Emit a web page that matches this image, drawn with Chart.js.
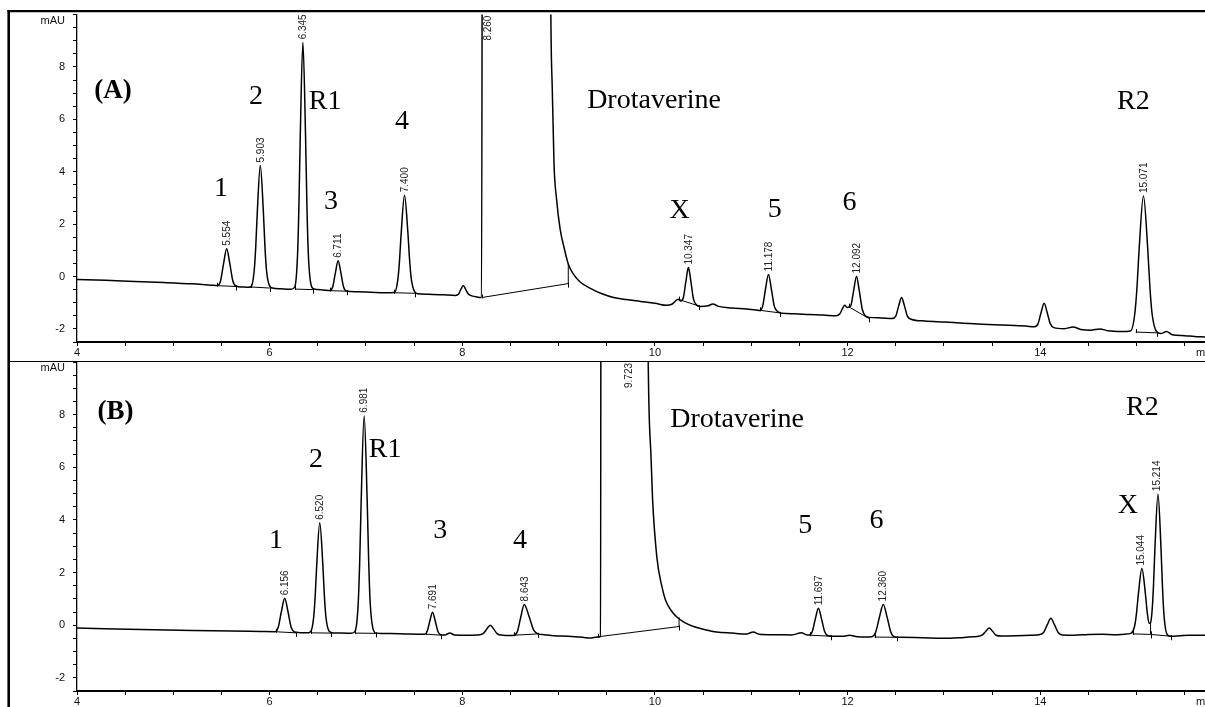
<!DOCTYPE html>
<html><head><meta charset="utf-8">
<script src="https://cdn.jsdelivr.net/npm/chart.js@4/dist/chart.umd.min.js"></script>
<style>
html,body{margin:0;padding:0;background:#fff;}
#wrap{position:relative;width:1205px;height:707px;overflow:hidden;background:#fff;}
canvas{position:absolute;left:0;top:0;}
</style></head><body>
<div id="wrap"><canvas id="cA" width="1205" height="707"></canvas><canvas id="cB" width="1205" height="707"></canvas></div>
<script>
// ---------- axis ticks ----------
const xTicks = [4,4.5,5,5.5,6,6.5,7,7.5,8,8.5,9,9.5,10,10.5,11,11.5,12,12.5,13,13.5,14,14.5,15,15.5];
const xTickLabels = [4,6,8,10,12,14];
const yTicks = [-2.5,-2,-1.5,-1,-0.5,0,0.5,1,1.5,2,2.5,3,3.5,4,4.5,5,5.5,6,6.5,7,7.5,8,8.5,9,9.5,10];
const yTickLabels = [-2,0,2,4,6,8];

// ---------- chromatogram (A): time (min) / signal (mAU) ----------
const timeA = [4.00,4.30,4.60,4.90,5.20,5.40,5.458,5.490,5.522,5.554,5.586,5.618,5.650,5.72,5.78,
5.807,5.839,5.855,5.871,5.903,5.935,5.951,5.967,5.999,6.03,6.12,6.22,
6.261,6.289,6.303,6.317,6.345,6.373,6.387,6.401,6.429,6.46,6.55,
6.627,6.655,6.683,6.711,6.739,6.767,6.795,6.90,7.05,7.20,
7.295,7.330,7.3475,7.365,7.400,7.435,7.4525,7.470,7.505,7.54,7.65,7.80,7.93,
7.96,7.985,8.010,8.035,8.06,8.10,8.15,8.20,
8.212,8.90,8.918,8.935,8.952,8.980,9.016,9.06,9.10,9.15,9.22,9.33,9.45,9.57,9.70,9.85,10.00,10.12,
10.18,10.24,10.269,10.295,10.321,10.347,10.373,10.399,10.43,10.47,10.55,10.60,10.66,10.80,10.95,11.05,
11.088,11.118,11.148,11.178,11.208,11.238,11.268,11.32,11.45,11.60,11.75,11.88,
11.92,11.95,11.97,11.995,12.032,12.062,12.092,12.122,12.152,12.182,12.22,12.35,12.46,
12.50,12.53,12.56,12.59,12.62,12.66,12.80,13.00,13.20,13.40,13.60,13.85,13.94,
13.976,14.008,14.040,14.072,14.104,14.14,14.25,14.34,14.42,14.52,14.62,14.70,14.85,
14.936,14.981,15.0035,15.026,15.071,15.116,15.1385,15.161,15.206,15.25,15.31,15.37,15.50,15.60,15.71];
const mauA = [-0.11,-0.14,-0.19,-0.23,-0.28,-0.33,-0.34,-0.17,0.50,1.06,0.50,-0.17,-0.36,-0.40,-0.41,
-0.39,0.20,1.09,2.40,4.24,2.45,1.15,0.25,-0.36,-0.44,-0.47,-0.49,
-0.40,0.78,2.58,5.23,8.94,5.30,2.70,0.90,-0.30,-0.48,-0.51,
-0.53,-0.39,0.15,0.60,0.15,-0.39,-0.55,-0.58,-0.60,-0.62,
-0.61,-0.14,0.58,1.63,3.10,1.68,0.65,-0.08,-0.58,-0.66,-0.68,-0.70,-0.72,
-0.68,-0.49,-0.34,-0.49,-0.66,-0.74,-0.78,-0.80,
25,25,10.5,7.0,4.3,2.9,1.8,1.05,0.48,0.11,-0.20,-0.45,-0.66,-0.80,-0.88,-0.95,-1.02,-1.10,
-1.05,-0.87,-0.93,-0.80,-0.19,0.34,-0.19,-0.85,-1.08,-1.14,-1.12,-1.05,-1.14,-1.20,-1.24,-1.28,
-1.30,-1.13,-0.47,0.08,-0.47,-1.12,-1.32,-1.40,-1.42,-1.45,-1.47,-1.50,
-1.42,-1.20,-1.10,-1.18,-1.12,-0.55,0.00,-0.57,-1.25,-1.50,-1.56,-1.58,-1.60,
-1.51,-1.12,-0.80,-1.12,-1.51,-1.63,-1.70,-1.74,-1.78,-1.82,-1.85,-1.89,-1.92,
-1.81,-1.38,-1.02,-1.38,-1.80,-1.95,-1.99,-1.93,-2.02,-2.05,-2.00,-2.07,-2.10,
-2.08,-1.43,-0.44,1.03,3.07,1.03,-0.44,-1.43,-2.10,-2.18,-2.10,-2.22,-2.26,-2.29,-2.31];

// ---------- chromatogram (B) ----------
const timeB = [4.00,4.40,4.80,5.20,5.60,5.90,6.054,6.088,6.122,6.156,6.190,6.224,6.258,6.30,6.38,
6.424,6.456,6.472,6.488,6.520,6.552,6.568,6.584,6.616,6.66,6.75,6.85,
6.888,6.919,6.9345,6.950,6.981,7.012,7.0275,7.043,7.074,7.11,7.25,7.40,7.55,
7.607,7.635,7.663,7.691,7.719,7.747,7.775,7.82,7.87,7.92,8.05,8.15,
8.22,8.255,8.290,8.325,8.36,8.42,8.50,
8.538,8.573,8.608,8.643,8.693,8.743,8.79,8.85,8.95,9.10,9.25,9.33,9.40,9.435,
9.442,9.90,9.93,9.96,9.975,10.02,10.07,10.11,10.17,10.23,10.30,10.40,10.52,10.64,10.80,10.95,11.02,11.08,11.25,11.42,11.52,11.58,
11.601,11.633,11.665,11.697,11.729,11.761,11.793,11.85,11.95,12.02,12.10,12.20,
12.25,12.29,12.33,12.37,12.41,12.45,12.49,12.55,12.70,12.85,13.00,13.15,13.30,13.36,
13.40,13.435,13.47,13.505,13.54,13.60,13.75,13.90,13.99,
14.034,14.072,14.110,14.148,14.186,14.23,14.35,14.50,14.64,14.78,14.88,
14.94,14.98,15.00,15.018,15.055,15.092,15.11,15.13,15.145,15.16,15.174,15.19,15.222,15.254,15.27,15.286,15.318,15.36,15.45,15.55,15.71];
const mauB = [-0.11,-0.14,-0.17,-0.20,-0.22,-0.24,-0.25,-0.09,0.52,1.02,0.52,-0.09,-0.26,-0.28,-0.29,
-0.25,0.27,1.06,2.24,3.89,2.30,1.12,0.32,-0.22,-0.30,-0.30,-0.31,
-0.22,0.81,2.38,4.71,7.96,4.80,2.50,0.90,-0.15,-0.31,-0.32,-0.33,-0.34,
-0.34,-0.24,0.16,0.49,0.16,-0.24,-0.36,-0.37,-0.30,-0.37,-0.38,-0.37,
-0.31,-0.14,0.00,-0.14,-0.32,-0.38,-0.39,
-0.38,-0.23,0.33,0.79,0.33,-0.20,-0.33,-0.36,-0.40,-0.42,-0.46,-0.49,-0.45,-0.43,
25,25,10.0,6.3,4.8,2.57,1.50,0.95,0.55,0.30,0.12,-0.05,-0.17,-0.26,-0.30,-0.33,-0.26,-0.34,-0.36,-0.37,-0.29,-0.37,
-0.37,-0.24,0.24,0.64,0.24,-0.24,-0.39,-0.42,-0.42,-0.38,-0.44,-0.45,
-0.44,-0.28,0.30,0.79,0.30,-0.28,-0.45,-0.46,-0.47,-0.49,-0.50,-0.48,-0.44,-0.42,
-0.37,-0.23,-0.11,-0.23,-0.38,-0.41,-0.40,-0.38,-0.36,
-0.28,0.01,0.26,0.01,-0.28,-0.37,-0.38,-0.35,-0.34,-0.36,-0.34,
-0.31,-0.02,0.49,1.17,2.15,1.17,0.50,0.07,0.10,0.52,1.40,2.90,4.98,2.85,1.32,0.30,-0.36,-0.42,-0.40,-0.38,-0.38];

// ---------- integration baselines [t1, y1, t2, y2] ----------
const integA = [[5.458,-0.35,5.65,-0.38],[5.807,-0.40,6.00,-0.44],[6.261,-0.48,6.45,-0.50],[6.63,-0.54,6.80,-0.56],
[7.295,-0.62,7.51,-0.64],[8.205,-0.80,9.10,-0.27],[9.10,-0.27,9.10,0.48],[10.25,-0.88,10.46,-1.13],
[11.088,-1.29,11.30,-1.39],[12.01,-1.15,12.22,-1.60],[14.99,-2.12,15.21,-2.15]];
const integB = [[6.07,-0.25,6.27,-0.29],[6.43,-0.29,6.64,-0.30],[6.89,-0.30,7.10,-0.31],[7.62,-0.34,7.78,-0.38],
[8.54,-0.38,8.79,-0.33],[9.41,-0.44,10.25,-0.05],[10.25,-0.05,10.25,0.30],[11.61,-0.38,11.83,-0.42],
[12.28,-0.45,12.51,-0.46],[14.96,-0.33,15.145,-0.35],[15.145,-0.35,15.145,0.10],[15.145,-0.35,15.36,-0.42]];

// ---------- retention-time labels and apex heights (null = off scale) ----------
const rtA = ['5.554','5.903','6.345','6.711','7.400','8.260','10.347','11.178','12.092','15.071'];
const apexA = [1.06,4.24,8.94,0.60,3.10,null,0.34,0.08,0.00,3.07];
const rtB = ['6.156','6.520','6.981','7.691','8.643','9.723','11.697','12.360','15.044','15.214'];
const apexB = [1.02,3.89,7.96,0.49,0.79,null,0.64,0.79,2.15,4.98];

// ---------- peak names ----------
const namesA = ['(A)','1','2','R1','3','4','Drotaverine','X','5','6','R2'];
const namesB = ['(B)','1','2','R1','3','4','Drotaverine','5','6','X','R2'];
// anchor (min, mAU) of each name's baseline centre
const nameAtA = [[4.374,6.81],[5.495,3.09],[5.859,6.58],[6.575,6.39],[6.638,2.59],[7.375,5.63],[9.99,6.43],[10.257,2.25],[11.243,2.26],[12.02,2.55],[14.966,6.39]];
const nameAtB = [[4.40,7.83],[6.066,2.93],[6.48,6.02],[7.198,6.40],[7.77,3.31],[8.60,2.93],[10.853,7.53],[11.56,3.51],[12.30,3.70],[14.909,4.26],[15.06,7.99]];

const SANS = '"Liberation Sans", Arial, sans-serif';
const SERIF = '"Liberation Serif", "Times New Roman", serif';

const toPts = (ts, vs) => ts.map((t, i) => ({x: t, y: vs[i]}));
const toSegs = list => { const out = []; list.forEach(s => { out.push({x: s[0], y: s[1]}, {x: s[2], y: s[3]}, {x: s[2], y: null}); }); return out; };

function annPlugin(cfg) {
  return {
    id: 'ann' + cfg.key,
    afterDatasetsDraw(chart) {
      const {ctx, chartArea: a, scales: {x, y}} = chart;
      // integration end ticks
      ctx.save();
      ctx.strokeStyle = '#000'; ctx.lineWidth = 1;
      cfg.integ.forEach(s => {
        if (s[0] === s[2]) return;
        const x1 = Math.round(x.getPixelForValue(s[0])) + 0.5, y1 = y.getPixelForValue(s[1]);
        const x2 = Math.round(x.getPixelForValue(s[2])) + 0.5, y2 = y.getPixelForValue(s[3]);
        ctx.beginPath();
        ctx.moveTo(x1, y1 - 3); ctx.lineTo(x1, y1 + 1);
        ctx.moveTo(x2, y2 - 1); ctx.lineTo(x2, y2 + 4);
        ctx.stroke();
      });
      // retention time labels (clipped to plot)
      ctx.beginPath(); ctx.rect(a.left, a.top, a.right - a.left, a.bottom - a.top); ctx.clip();
      ctx.font = '10px ' + SANS; ctx.fillStyle = '#222';
      cfg.rt.forEach((txt, i) => {
        const px = x.getPixelForValue(parseFloat(txt));
        const w = ctx.measureText(txt).width;
        const h = cfg.apex[i];
        const start = (h === null) ? a.top + w + 1 : y.getPixelForValue(h) - 3;
        ctx.save(); ctx.translate(px + 0.5, start); ctx.rotate(-Math.PI / 2);
        ctx.textAlign = 'left'; ctx.textBaseline = 'middle';
        ctx.fillText(txt, 0, 0); ctx.restore();
      });
      ctx.restore();
      // peak names
      ctx.save();
      ctx.fillStyle = '#000'; ctx.textAlign = 'center'; ctx.textBaseline = 'alphabetic';
      cfg.names.forEach((n, i) => {
        const p = cfg.nameAt[i];
        ctx.font = (i === 0 ? 'bold 27px ' : '28px ') + SERIF;
        ctx.fillText(n, x.getPixelForValue(p[0]), y.getPixelForValue(p[1]));
      });
      // axis unit texts
      ctx.fillStyle = '#111';
      ctx.font = '11px ' + SANS; ctx.textAlign = 'right'; ctx.textBaseline = 'middle';
      ctx.fillText('mAU', a.left - 12, a.top + 6);
      ctx.font = '11px ' + SANS; ctx.textAlign = 'left'; ctx.textBaseline = 'top';
      ctx.fillText('min', a.right - 9, a.bottom + 5);
      ctx.restore();
    }
  };
}

const framePlugin = {
  id: 'frame',
  afterDraw(chart) {
    const ctx = chart.ctx;
    ctx.save(); ctx.strokeStyle = '#000';
    ctx.lineWidth = 2.6; ctx.beginPath(); ctx.moveTo(8.7, 10); ctx.lineTo(8.7, 707); ctx.stroke();
    ctx.lineWidth = 2.2; ctx.beginPath(); ctx.moveTo(7.4, 11.2); ctx.lineTo(1205, 11.2); ctx.stroke();
    ctx.lineWidth = 1.1; ctx.beginPath(); ctx.moveTo(9, 361.5); ctx.lineTo(1205, 361.5); ctx.stroke();
    ctx.restore();
  }
};

function build(cfg) {
  return new Chart(document.getElementById(cfg.canvas), {
    type: 'line',
    data: {datasets: [
      {data: toPts(cfg.t, cfg.v), borderColor: '#000', borderWidth: 1.5, pointRadius: 0, cubicInterpolationMode: 'monotone', fill: false},
      {data: toSegs(cfg.integ), borderColor: '#000', borderWidth: 1, pointRadius: 0, tension: 0, spanGaps: false, fill: false}
    ]},
    options: {
      responsive: false, animation: false, events: [],
      layout: {padding: {top: cfg.padTop, bottom: cfg.padBottom, left: 0, right: 0}},
      plugins: {legend: {display: false}, tooltip: {enabled: false}, title: {display: false}},
      scales: {
        x: {
          type: 'linear', min: 4, max: 15.71, position: 'bottom',
          afterBuildTicks: s => { s.ticks = xTicks.map(v => ({value: v})); },
          afterFit: s => { s.height = cfg.xAxisH; },
          grid: {display: true, drawOnChartArea: false, drawTicks: true, tickLength: 4, color: '#000', lineWidth: 1},
          border: {display: true, color: '#000', width: 2},
          ticks: {autoSkip: false, maxRotation: 0, minRotation: 0, padding: 0, color: '#111',
                  font: {family: SANS, size: 11},
                  callback: v => xTickLabels.includes(v) ? String(v) : ''}
        },
        y: {
          type: 'linear', min: -2.5, max: 10, position: 'left',
          afterBuildTicks: s => { s.ticks = yTicks.map(v => ({value: v})); },
          afterFit: s => { s.width = 77; },
          grid: {display: true, drawOnChartArea: false, drawTicks: true, tickLength: 4, color: '#000', lineWidth: 1},
          border: {display: true, color: '#000', width: 1.3},
          ticks: {autoSkip: false, padding: 8, color: '#111',
                  font: {family: SANS, size: 11},
                  callback: v => yTickLabels.includes(v) ? String(v) : ''}
        }
      }
    },
    plugins: cfg.extra ? [annPlugin(cfg), cfg.extra] : [annPlugin(cfg)]
  });
}

build({key: 'A', canvas: 'cA', t: timeA, v: mauA, integ: integA, rt: rtA, apex: apexA,
       names: namesA, nameAt: nameAtA, padTop: 13, padBottom: 346, xAxisH: 19, extra: framePlugin});
build({key: 'B', canvas: 'cB', t: timeB, v: mauB, integ: integB, rt: rtB, apex: apexB,
       names: namesB, nameAt: nameAtB, padTop: 362, padBottom: 0, xAxisH: 16});
</script>
</body></html>
